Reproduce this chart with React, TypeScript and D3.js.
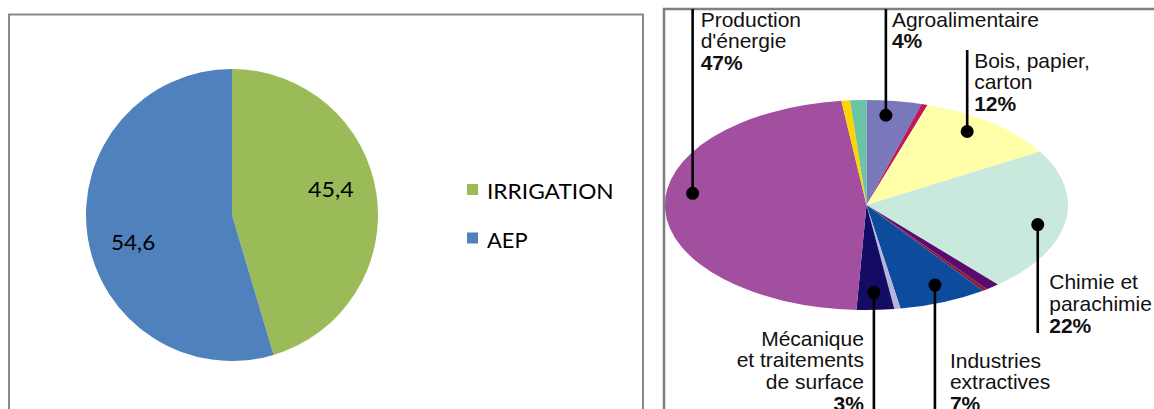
import * as d3 from "d3";

// left chart: water use split
const useLabels = ["IRRIGATION", "AEP"];
const useValues = [45.4, 54.6];
const useValueText = ["45,4", "54,6"];
const useColors = ["#9BBB59", "#4F81BD"];

// right chart: industrial sectors, clockwise from 12 o'clock
const sectorNames = [
  "Agroalimentaire",
  "autre-1",
  "Bois, papier, carton",
  "Chimie et parachimie",
  "autre-2",
  "autre-3",
  "Industries extractives",
  "autre-4",
  "Mécanique et traitements de surface",
  "Production d'énergie",
  "autre-5",
  "autre-6",
];
const sectorShares = [4.4, 0.5, 11.6, 22.2, 1.1, 0.4, 7.1, 0.5, 3.0, 47.2, 0.7, 1.3];
const sectorColors = [
  "#7878BA",
  "#C0185C",
  "#FFFFAA",
  "#C8E9DB",
  "#5B0A6E",
  "#8C1A3A",
  "#0D4C9D",
  "#B4B4DC",
  "#140C64",
  "#A24F9F",
  "#FFD500",
  "#6BC4A6",
];

// callout text for the labelled sectors
const calloutLines: Record<string, string[]> = {
  "Agroalimentaire": ["Agroalimentaire"],
  "Bois, papier, carton": ["Bois, papier,", "carton"],
  "Chimie et parachimie": ["Chimie et", "parachimie"],
  "Industries extractives": ["Industries", "extractives"],
  "Mécanique et traitements de surface": ["Mécanique", "et traitements", "de surface"],
  "Production d'énergie": ["Production", "d'énergie"],
};
const calloutPct: Record<string, string> = {
  "Agroalimentaire": "4%",
  "Bois, papier, carton": "12%",
  "Chimie et parachimie": "22%",
  "Industries extractives": "7%",
  "Mécanique et traitements de surface": "3%",
  "Production d'énergie": "47%",
};

const W = 1154;
const H = 409;

// layout of the callouts (nudge in degrees, r as fraction of radius)
const CALLOUT_LAYOUT: Record<
  string,
  { nudge: number; r: number; lineEnd: number; dx: number; baseline: number; anchor: "start" | "end" }
> = {
  "Agroalimentaire": { nudge: -1.5, r: 0.86, lineEnd: 9, dx: 6, baseline: 26.7, anchor: "start" },
  "Bois, papier, carton": { nudge: -3, r: 0.86, lineEnd: 50, dx: 7, baseline: 67.7, anchor: "start" },
  "Chimie et parachimie": { nudge: 3, r: 0.87, lineEnd: 333, dx: 11.5, baseline: 289.3, anchor: "start" },
  "Industries extractives": { nudge: -1.5, r: 0.835, lineEnd: 420, dx: 15, baseline: 367.7, anchor: "start" },
  "Mécanique et traitements de surface": { nudge: 0, r: 0.835, lineEnd: 420, dx: -10, baseline: 345.7, anchor: "end" },
  "Production d'énergie": { nudge: 9.5, r: 0.87, lineEnd: 9, dx: 8, baseline: 26.7, anchor: "start" },
};
const LINE_H = 21.6;

function LeftPie() {
  const cx = 232;
  const cy = 215;
  const r = 146;
  const arcs = d3.pie<number>().sort(null)(useValues);
  const arc = d3.arc<d3.PieArcDatum<number>>().innerRadius(0).outerRadius(r);
  const labelArc = d3.arc<d3.PieArcDatum<number>>().innerRadius(100).outerRadius(100);
  const labelDy = [-12, 13];
  const labelLen = [45.7, 44.3];
  const legendLen = [126.7, 40.5];

  return (
    <g>
      <rect x={9} y={14.5} width={634} height={420} fill="white" stroke="#898989" strokeWidth={2} />
      <g transform={`translate(${cx},${cy})`}>
        {arcs.map((a, i) => (
          <path key={i} d={arc(a) ?? ""} fill={useColors[i]} />
        ))}
        {arcs.map((a, i) => {
          const [x, y] = labelArc.centroid(a);
          return (
            <text
              key={i}
              x={x}
              y={y + labelDy[i]}
              textAnchor="middle"
              dominantBaseline="central"
              fontFamily="Lato, 'Open Sans', sans-serif"
              fontSize={20.5}
              fill="#000"
              textLength={labelLen[i]}
              lengthAdjust="spacingAndGlyphs"
            >
              {useValueText[i]}
            </text>
          );
        })}
      </g>
      {useLabels.map((name, i) => (
        <g key={name} transform={`translate(467,${184 + i * 48.5})`}>
          <rect x={0} y={0} width={11} height={11} fill={useColors[i]} />
          <text
            x={20}
            y={15.3}
            fontFamily="Lato, 'Open Sans', sans-serif"
            fontSize={20.5}
            fill="#000"
            textLength={legendLen[i]}
            lengthAdjust="spacingAndGlyphs"
          >
            {name}
          </text>
        </g>
      ))}
    </g>
  );
}

function RightPie() {
  const cx = 866.5;
  const cy = 205;
  const rx = 201.5;
  const ry = 105;
  const arcs = d3.pie<number>().sort(null)(sectorShares);
  const arc = d3.arc<d3.PieArcDatum<number>>().innerRadius(0).outerRadius(1);
  const toXY = (angle: number, frac: number) => [
    cx + rx * frac * Math.sin(angle),
    cy - ry * frac * Math.cos(angle),
  ];

  return (
    <g>
      <g transform={`translate(${cx},${cy}) scale(${rx},${ry})`}>
        {arcs.map((a, i) => (
          <path key={i} d={arc(a) ?? ""} fill={sectorColors[i]} />
        ))}
      </g>
      <rect x={664} y={9} width={600} height={500} fill="none" stroke="#808080" strokeWidth={2.5} />
      {arcs.map((a, i) => {
        const name = sectorNames[i];
        const lay = CALLOUT_LAYOUT[name];
        if (!lay) return null;
        const mid = (a.startAngle + a.endAngle) / 2 + (lay.nudge * Math.PI) / 180;
        const [dx0, dy0] = toXY(mid, lay.r);
        const lines = calloutLines[name];
        const tx = dx0 + lay.dx;
        return (
          <g key={name}>
            <line x1={dx0} x2={dx0} y1={dy0} y2={lay.lineEnd} stroke="#000" strokeWidth={2.6} />
            <circle cx={dx0} cy={dy0} r={6.5} fill="#000" />
            <text
              fontFamily="'Liberation Sans', Arial, sans-serif"
              fontSize={21}
              fill="#111"
              textAnchor={lay.anchor}
            >
              {lines.map((l, k) => (
                <tspan key={k} x={tx} y={lay.baseline + k * LINE_H}>
                  {l}
                </tspan>
              ))}
              <tspan x={tx} y={lay.baseline + lines.length * LINE_H} fontWeight="bold">
                {calloutPct[name]}
              </tspan>
            </text>
          </g>
        );
      })}
    </g>
  );
}

export default function App() {
  return (
    <svg
      width={W}
      height={H}
      viewBox={`0 0 ${W} ${H}`}
      style={{ position: "absolute", left: 0, top: 0, background: "white" }}
    >
      <rect x={0} y={0} width={W} height={H} fill="white" />
      <LeftPie />
      <RightPie />
    </svg>
  );
}
